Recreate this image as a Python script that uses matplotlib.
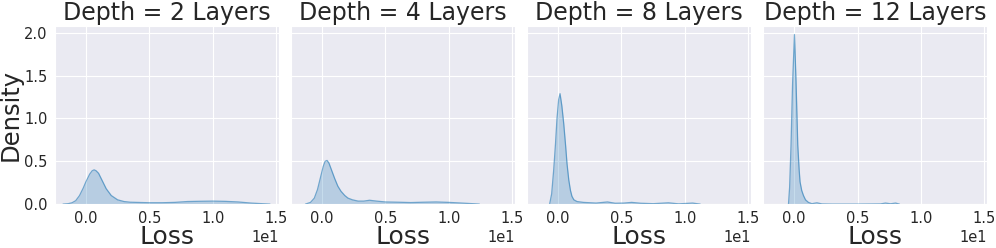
import matplotlib
matplotlib.use("Agg")
import matplotlib.pyplot as plt
import seaborn as sns

sns.set_style("darkgrid")
plt.rcParams['font.family'] = ['DejaVu Sans']

titles = ["Depth = 2 Layers", "Depth = 4 Layers", "Depth = 8 Layers", "Depth = 12 Layers"]

# Density curves (loss, density)
loss_d2 = [-1.8, -1.4, -1.1, -0.8, -0.5, -0.2, 0.0, 0.3, 0.5, 0.65, 0.8, 1.0, 1.3, 1.6, 2.0, 2.5, 3.0, 3.5, 4, 5, 6, 7, 8, 9, 10, 11, 12, 13, 14, 14.5]
dens_d2 = [0.0, 0.005, 0.015, 0.04, 0.10, 0.19, 0.26, 0.35, 0.39, 0.40, 0.39, 0.36, 0.27, 0.18, 0.10, 0.05, 0.03, 0.022, 0.02, 0.016, 0.016, 0.02, 0.03, 0.033, 0.035, 0.032, 0.025, 0.012, 0.004, 0.0]

loss_d4 = [-1.3, -0.9, -0.6, -0.35, -0.1, 0.1, 0.25, 0.4, 0.55, 0.7, 1.0, 1.25, 1.5, 1.8, 2.05, 2.4, 2.85, 3.3, 3.75, 4.3, 5, 6, 7, 8, 9, 10, 11, 12, 12.4]
dens_d4 = [0.0, 0.02, 0.07, 0.17, 0.32, 0.44, 0.50, 0.51, 0.48, 0.42, 0.30, 0.21, 0.15, 0.10, 0.07, 0.05, 0.035, 0.035, 0.045, 0.035, 0.025, 0.022, 0.018, 0.022, 0.025, 0.02, 0.012, 0.004, 0.0]

loss_d8 = [-0.66, -0.5, -0.34, -0.2, -0.08, 0.05, 0.16, 0.3, 0.45, 0.6, 0.71, 0.85, 0.98, 1.1, 1.25, 1.5, 2, 3, 3.9, 4.5, 5.2, 5.8, 6.5, 7.5, 8.7, 9.5, 10.6, 11.2]
dens_d8 = [0.0, 0.12, 0.4, 0.7, 1.0, 1.22, 1.29, 1.15, 0.94, 0.68, 0.47, 0.28, 0.16, 0.09, 0.05, 0.03, 0.02, 0.012, 0.025, 0.01, 0.012, 0.02, 0.01, 0.005, 0.015, 0.003, 0.012, 0.0]

loss_d12 = [-0.44, -0.35, -0.24, -0.12, 0.03, 0.15, 0.29, 0.4, 0.47, 0.6, 0.74, 0.9, 1.13, 1.4, 1.8, 2.2, 3, 5, 6.8, 7.2, 7.6, 8.0, 8.3]
dens_d12 = [0.0, 0.2, 0.69, 1.4, 1.98, 1.45, 0.69, 0.4, 0.26, 0.16, 0.1, 0.05, 0.02, 0.005, 0.015, 0.002, 0.0, 0.0, 0.002, 0.012, 0.004, 0.012, 0.0]

curves = [(loss_d2, dens_d2), (loss_d4, dens_d4), (loss_d8, dens_d8), (loss_d12, dens_d12)]

fig, axes = plt.subplots(1, 4, figsize=(9.96, 2.48), dpi=100, sharex=True, sharey=True)
fig.subplots_adjust(left=0.055, right=0.991, bottom=0.177, top=0.895, wspace=0.0536)

color = "#1f77b4"
for ax, title, (xs, ys) in zip(axes, titles, curves):
    ax.fill_between(xs, ys, 0, color=color, alpha=0.25, linewidth=0)
    ax.plot(xs, ys, color=color, alpha=0.6, linewidth=0.9)
    ax.set_title(title, fontsize=17, pad=4, color="#262626")
    ax.set_xlabel("Loss", fontsize=18, labelpad=-1, color="#262626")
    ax.tick_params(axis='both', labelsize=10.5, pad=1.5, colors="#262626")
    ax.ticklabel_format(axis='x', style='sci', scilimits=(0, 0))
    ax.xaxis.get_offset_text().set_fontsize(10.5)

axes[0].set_ylabel("Density", fontsize=17.5, labelpad=1, color="#262626")
axes[0].set_xlim(-2.45, 15.2)
axes[0].set_ylim(0, 2.08)
axes[0].set_yticks([0.0, 0.5, 1.0, 1.5, 2.0])
axes[0].set_xticks([0, 5, 10, 15])

fig.savefig("out.png", dpi=100)
